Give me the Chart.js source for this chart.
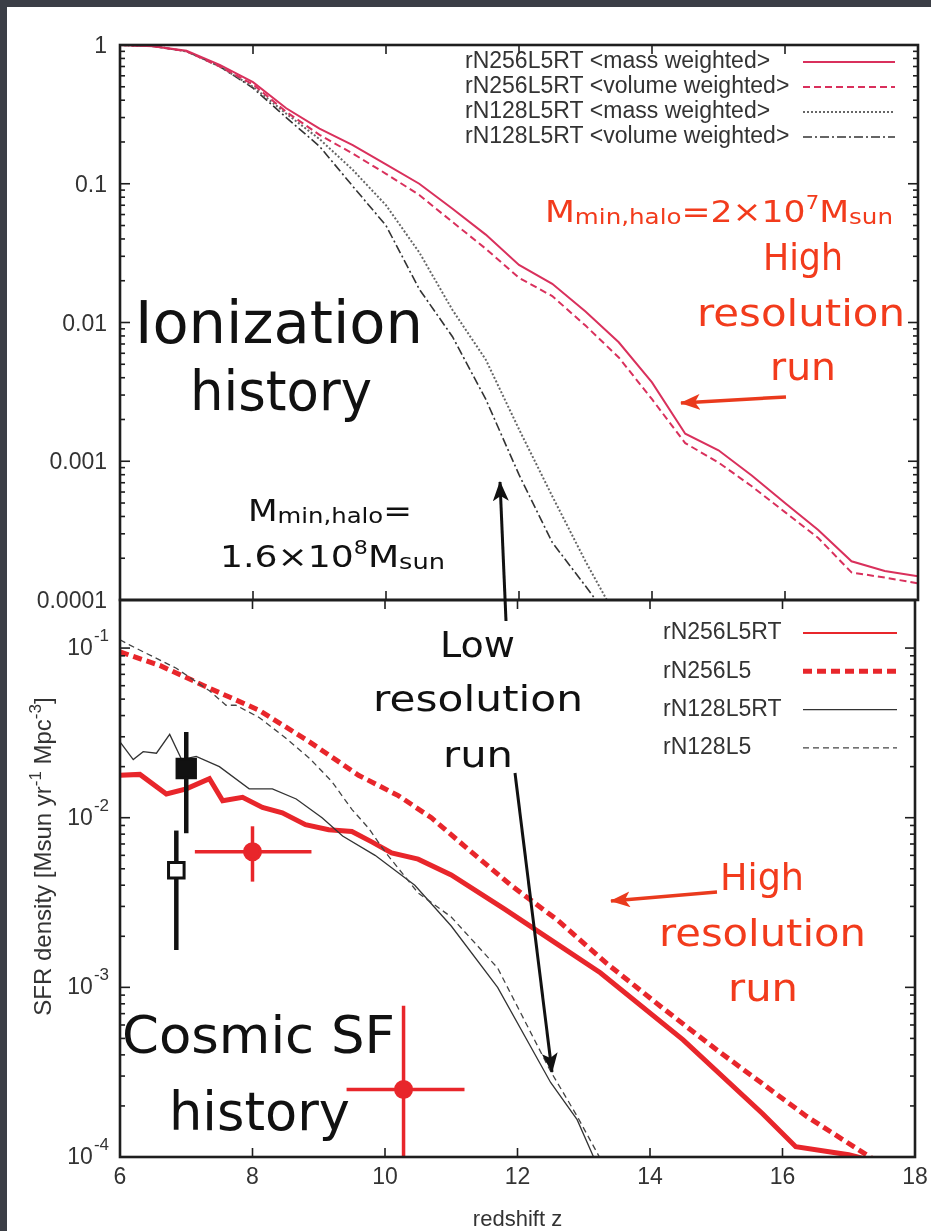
<!DOCTYPE html>
<html>
<head>
<meta charset="utf-8">
<script src="https://cdn.jsdelivr.net/npm/chart.js@4.4.1/dist/chart.umd.min.js"></script>
<style>
  html, body { margin:0; padding:0; width:931px; height:1231px; overflow:hidden; background:#3b3e46; }
  #sheet { position:absolute; left:7px; top:7px; right:0; bottom:0; background:#fff; }
  canvas { position:absolute; left:0; }
  #cTop { top:0; }
  #cBot { top:580px; }
  #notes { position:absolute; left:0; top:0; }
</style>
</head>
<body>
<div id="sheet"></div>
<canvas id="cTop" width="931" height="620"></canvas>
<canvas id="cBot" width="931" height="651"></canvas>

<svg id="notes" width="931" height="1231" font-family="'DejaVu Sans', sans-serif">
  <defs>
    <marker id="hr" viewBox="0 0 20 16" refX="19" refY="8" markerWidth="20" markerHeight="16" markerUnits="userSpaceOnUse" orient="auto">
      <path d="M0,0 L20,8 L0,16 L5,8 Z" fill="#ea3a1d"/>
    </marker>
    <marker id="hk" viewBox="0 0 20 16" refX="19" refY="8" markerWidth="20" markerHeight="16" markerUnits="userSpaceOnUse" orient="auto">
      <path d="M0,0 L20,8 L0,16 L5,8 Z" fill="#111"/>
    </marker>
  </defs>

  <!-- top panel notes -->
  <text x="135" y="343" font-size="58" fill="#111" textLength="288" lengthAdjust="spacingAndGlyphs">Ionization</text>
  <text x="190" y="410" font-size="56" fill="#111" textLength="182" lengthAdjust="spacingAndGlyphs">history</text>

  <text x="545" y="222" font-size="31" fill="#f23b1c" textLength="348" lengthAdjust="spacingAndGlyphs">M<tspan font-size="22" dy="2">min,halo</tspan><tspan dy="-2">=2×10</tspan><tspan font-size="19" dy="-13">7</tspan><tspan dy="13">M</tspan><tspan font-size="22" dy="2">sun</tspan></text>
  <text x="763" y="270" font-size="38" fill="#f23b1c" textLength="80" lengthAdjust="spacingAndGlyphs">High</text>
  <text x="697" y="326" font-size="38" fill="#f23b1c" textLength="208" lengthAdjust="spacingAndGlyphs">resolution</text>
  <text x="770" y="380" font-size="38" fill="#f23b1c" textLength="66" lengthAdjust="spacingAndGlyphs">run</text>
  <line x1="786" y1="397" x2="681" y2="403" stroke="#ea3a1d" stroke-width="3.5" marker-end="url(#hr)"/>

  <text x="248" y="521" font-size="31" fill="#111" textLength="164" lengthAdjust="spacingAndGlyphs">M<tspan font-size="22" dy="2">min,halo</tspan><tspan dy="-2">=</tspan></text>
  <text x="220" y="567" font-size="31" fill="#111" textLength="225" lengthAdjust="spacingAndGlyphs">1.6×10<tspan font-size="19" dy="-13">8</tspan><tspan dy="13">M</tspan><tspan font-size="22" dy="2">sun</tspan></text>

  <!-- low resolution notes -->
  <line x1="506" y1="621" x2="500" y2="482" stroke="#111" stroke-width="3" marker-end="url(#hk)"/>
  <text x="440" y="657" font-size="36" fill="#111" textLength="75" lengthAdjust="spacingAndGlyphs">Low</text>
  <text x="373" y="711" font-size="36" fill="#111" textLength="210" lengthAdjust="spacingAndGlyphs">resolution</text>
  <text x="443" y="767" font-size="36" fill="#111" textLength="70" lengthAdjust="spacingAndGlyphs">run</text>
  <line x1="515" y1="773" x2="552" y2="1072" stroke="#111" stroke-width="3" marker-end="url(#hk)"/>

  <!-- bottom panel notes -->
  <text x="720" y="890" font-size="38" fill="#f23b1c" textLength="84" lengthAdjust="spacingAndGlyphs">High</text>
  <text x="659" y="946" font-size="38" fill="#f23b1c" textLength="207" lengthAdjust="spacingAndGlyphs">resolution</text>
  <text x="728" y="1001" font-size="38" fill="#f23b1c" textLength="70" lengthAdjust="spacingAndGlyphs">run</text>
  <line x1="717" y1="892" x2="611" y2="901" stroke="#ea3a1d" stroke-width="3.5" marker-end="url(#hr)"/>

  <text x="122" y="1053" font-size="52" fill="#111" textLength="273" lengthAdjust="spacingAndGlyphs">Cosmic SF</text>
  <text x="169" y="1130" font-size="54" fill="#111" textLength="181" lengthAdjust="spacingAndGlyphs">history</text>
</svg>

<script>
// ---- ionization history (top panel) ----
const zIon = [6, 6.5, 7, 7.5, 8, 8.5, 9, 9.5, 10, 10.5, 11, 11.5, 12, 12.5, 13, 13.5, 14, 14.5, 15, 15.5, 16, 16.5, 17, 17.5, 18];
const ionMass256 = [1.0, 0.98, 0.91, 0.72, 0.54, 0.35, 0.25, 0.19, 0.138, 0.10, 0.066, 0.043, 0.026, 0.019, 0.012, 0.0072, 0.0037, 0.00158, 0.0012, 0.00079, 0.0005, 0.00032, 0.00019, 0.000162, 0.000148];
const ionVol256  = [1.0, 0.98, 0.90, 0.70, 0.52, 0.33, 0.225, 0.165, 0.118, 0.083, 0.053, 0.034, 0.021, 0.0155, 0.0095, 0.0056, 0.0028, 0.00135, 0.00098, 0.00066, 0.00043, 0.00028, 0.000158, 0.000145, 0.000132];
const zIon128 = [6, 6.5, 7, 7.5, 8, 8.5, 9, 9.5, 10, 10.5, 11, 11.5, 12, 12.5, 13, 13.5];
const ionMass128 = [1.0, 0.98, 0.9, 0.7, 0.5, 0.32, 0.21, 0.126, 0.07, 0.032, 0.0123, 0.0054, 0.0017, 0.00056, 0.00019, 0.00007];
const ionVol128  = [1.0, 0.98, 0.9, 0.7, 0.49, 0.3, 0.186, 0.096, 0.05, 0.0174, 0.0079, 0.0028, 0.0008, 0.00026, 0.000126, 0.00006];
const ionTicks = [1, 0.1, 0.01, 0.001, 0.0001];
const ionTickText = ['1', '0.1', '0.01', '0.001', '0.0001'];

// ---- cosmic SF history (bottom panel) ----
const zSfr256RT = [6.0, 6.3, 6.7, 7.0, 7.35, 7.55, 7.85, 8.15, 8.45, 8.8, 9.15, 9.5, 9.8, 10.1, 10.5, 11.0, 11.8, 12.6, 13.25, 14.5, 15.7, 16.2, 17.0, 17.6];
const sfr256RT  = [0.0178, 0.018, 0.0138, 0.0148, 0.017, 0.0126, 0.0132, 0.0115, 0.0107, 0.0091, 0.0085, 0.0083, 0.0072, 0.0062, 0.0057, 0.0046, 0.0029, 0.0018, 0.00122, 0.00049, 0.00018, 0.000115, 0.000103, 0.00009];
const zSfr256 = [6.0, 6.6, 7.35, 8.1, 8.86, 9.6, 10.2, 10.7, 11.2, 11.9, 12.6, 13.35, 14.2, 15.0, 16.36, 17.6];
const sfr256  = [0.095, 0.079, 0.058, 0.043, 0.028, 0.0178, 0.0135, 0.010, 0.0068, 0.004, 0.0025, 0.00138, 0.00075, 0.00043, 0.000174, 0.000085];
const zSfr128RT = [6.0, 6.2, 6.35, 6.55, 6.75, 6.93, 7.15, 7.5, 7.95, 8.3, 8.66, 9.05, 9.36, 9.85, 10.45, 11.0, 11.7, 12.5, 12.9, 13.2];
const sfr128RT  = [0.028, 0.022, 0.0245, 0.024, 0.031, 0.022, 0.023, 0.020, 0.0148, 0.0148, 0.0129, 0.010, 0.0078, 0.006, 0.004, 0.0023, 0.001, 0.000275, 0.000166, 0.00009];
const zSfr128 = [6.0, 6.15, 6.85, 7.35, 7.6, 7.75, 8.1, 8.5, 8.86, 9.2, 9.5, 9.76, 10.0, 10.5, 11.0, 11.7, 12.5, 12.9, 13.3];
const sfr128  = [0.112, 0.104, 0.076, 0.056, 0.046, 0.046, 0.039, 0.0295, 0.0224, 0.0163, 0.0112, 0.0086, 0.0063, 0.0036, 0.0026, 0.0013, 0.00032, 0.000174, 0.00009];

// observational points: filled square, open square, two red circles
const obsZ   = [7.0, 6.85, 8.0, 10.28];
const obsV   = [0.0195, 0.0049, 0.0063, 0.00025];
const obsVLo = [0.0081, 0.00166, 0.0042, 0.00005];
const obsVHi = [0.032, 0.0084, 0.0089, 0.00078];
const obsZLo = [7.0, 6.85, 7.13, 9.42];
const obsZHi = [7.0, 6.85, 8.89, 11.2];
const sfrTicks = [0.1, 0.01, 0.001, 0.0001];
const sfrTickExp = ['-1', '-2', '-3', '-4'];
const zTicks = [6, 8, 10, 12, 14, 16, 18];

const RED = '#e8262b', PINK = '#d9305c', INK = '#333';
const FONT = '"Liberation Sans", Arial, sans-serif';
const pairs = (xs, ys) => xs.map((x, i) => ({ x, y: ys[i] }));

function seg(ctx, x1, y1, x2, y2){ ctx.beginPath(); ctx.moveTo(x1, y1); ctx.lineTo(x2, y2); ctx.stroke(); }

// frame, inward ticks, tick labels and key, all placed through the chart scales
const axesPlugin = {
  id: 'axes',
  afterDatasetsDraw(chart, args, o){
    const { ctx, chartArea: a } = chart;
    const xs = chart.scales.x, ys = chart.scales.y;
    ctx.save();
    ctx.strokeStyle = '#1e1e1e';
    ctx.setLineDash([]);
    ctx.lineWidth = 1.6;
    zTicks.forEach(v => {
      const px = xs.getPixelForValue(v);
      seg(ctx, px, a.bottom, px, a.bottom - 9);
      seg(ctx, px, a.top, px, a.top + 9);
    });
    const e0 = Math.floor(Math.log10(ys.min)), e1 = Math.ceil(Math.log10(ys.max));
    for (let e = e0; e <= e1; e++) {
      for (let m = 1; m <= 9; m++) {
        const v = m * Math.pow(10, e);
        if (v < ys.min * 0.999 || v > ys.max * 1.001) continue;
        const py = ys.getPixelForValue(v), len = m === 1 ? 10 : 5;
        seg(ctx, a.left, py, a.left + len, py);
        seg(ctx, a.right, py, a.right - len, py);
      }
    }
    ctx.lineWidth = 2.6;
    ctx.strokeRect(a.left, a.top, a.width, a.height);

    ctx.fillStyle = INK;
    ctx.textBaseline = 'alphabetic';
    if (o.kind === 'ion') {
      ctx.font = '23px ' + FONT;
      ctx.textAlign = 'right';
      ionTicks.forEach((v, i) => ctx.fillText(ionTickText[i], a.left - 13, ys.getPixelForValue(v) + 8));
    } else {
      sfrTicks.forEach((v, i) => {
        const py = ys.getPixelForValue(v);
        ctx.font = '17px ' + FONT;
        ctx.textAlign = 'right';
        const sw = ctx.measureText(sfrTickExp[i]).width;
        ctx.fillText(sfrTickExp[i], a.left - 11, py - 7);
        ctx.font = '23px ' + FONT;
        ctx.fillText('10', a.left - 12 - sw, py + 7);
      });
      ctx.font = '23px ' + FONT;
      ctx.textAlign = 'center';
      zTicks.forEach(v => ctx.fillText(String(v), xs.getPixelForValue(v), a.bottom + 27));
      ctx.font = '22px ' + FONT;
      ctx.fillText('redshift z', (a.left + a.right) / 2, a.bottom + 69);
      // rotated y title with superscripts
      const parts = [['SFR density [Msun yr', 24, 0], ['-1', 17, -10], [' Mpc', 24, 0], ['-3', 17, -10], [']', 24, 0]];
      let total = 0;
      parts.forEach(p => { ctx.font = p[1] + 'px ' + FONT; total += ctx.measureText(p[0]).width; });
      ctx.translate(a.left - 69, (a.top + a.bottom) / 2 - 22);
      ctx.rotate(-Math.PI / 2);
      ctx.textAlign = 'left';
      let cx = -total / 2;
      parts.forEach(p => { ctx.font = p[1] + 'px ' + FONT; ctx.fillText(p[0], cx, p[2]); cx += ctx.measureText(p[0]).width; });
      ctx.setTransform(1, 0, 0, 1, 0, 0);
    }

    // key
    const k = o.key;
    ctx.font = k.font;
    ctx.textAlign = 'left';
    ctx.textBaseline = 'middle';
    chart.data.datasets.filter(d => d.label).forEach((d, i) => {
      const y = k.y0 + i * k.dy;
      ctx.fillStyle = INK;
      ctx.fillText(d.label, k.x, y);
      ctx.strokeStyle = d.borderColor;
      ctx.lineWidth = d.keyWidth || d.borderWidth;
      ctx.setLineDash(d.borderDash || []);
      seg(ctx, k.x1, y, k.x2, y);
    });
    ctx.restore();
  }
};

const lineDefaults = { pointRadius: 0, tension: 0, fill: false, clip: 0 };

function baseOptions(yMin, yMax, padding, kind, key){
  return {
    responsive: false,
    animation: false,
    devicePixelRatio: 1,
    layout: { padding },
    scales: {
      x: { type: 'linear', min: 6, max: 18, display: false },
      y: { type: 'logarithmic', min: yMin, max: yMax, display: false }
    },
    plugins: { legend: { display: false }, tooltip: { enabled: false }, axes: { kind, key } }
  };
}

// top chart: plot box 120..918 x 45..600
new Chart(document.getElementById('cTop'), {
  type: 'line',
  data: { datasets: [
    { ...lineDefaults, label: 'rN256L5RT <mass weighted>', data: pairs(zIon, ionMass256), borderColor: PINK, borderWidth: 2 },
    { ...lineDefaults, label: 'rN256L5RT <volume weighted>', data: pairs(zIon, ionVol256), borderColor: PINK, borderWidth: 2, borderDash: [7, 4] },
    { ...lineDefaults, label: 'rN128L5RT <mass weighted>', data: pairs(zIon128, ionMass128), borderColor: '#666', borderWidth: 2, borderDash: [2, 2] },
    { ...lineDefaults, label: 'rN128L5RT <volume weighted>', data: pairs(zIon128, ionVol128), borderColor: '#333', borderWidth: 1.6, borderDash: [9, 3, 2, 3] }
  ]},
  options: baseOptions(0.0001, 1, { left: 120, top: 45, right: 13, bottom: 20 }, 'ion',
    { x: 465, x1: 803, x2: 895, y0: 62, dy: 25, font: '23px ' + FONT }),
  plugins: [axesPlugin]
});

// error bars and markers for the observations
const obsColor  = ['#111', '#111', RED, RED];
const obsFill   = ['#111', '#fff', RED, RED];
const obsStyle  = ['rect', 'rect', 'circle', 'circle'];
const obsRadius = [13, 11, 8, 8];
const obsBars = [];
obsZ.forEach((z, i) => {
  const w = obsColor[i] === RED ? 3.5 : 4.5;
  obsBars.push({ ...lineDefaults, order: 1, data: [{ x: z, y: obsVLo[i] }, { x: z, y: obsVHi[i] }], borderColor: obsColor[i], borderWidth: w });
  if (obsZLo[i] !== obsZHi[i]) {
    obsBars.push({ ...lineDefaults, order: 1, data: [{ x: obsZLo[i], y: obsV[i] }, { x: obsZHi[i], y: obsV[i] }], borderColor: obsColor[i], borderWidth: w });
  }
});

// bottom chart: plot box 120..918 x 600..1157 (canvas starts at 580)
new Chart(document.getElementById('cBot'), {
  type: 'line',
  data: { datasets: [
    { ...lineDefaults, order: 5, label: 'rN256L5RT', data: pairs(zSfr256RT, sfr256RT), borderColor: RED, borderWidth: 5, keyWidth: 2 },
    { ...lineDefaults, order: 4, label: 'rN256L5', data: pairs(zSfr256, sfr256), borderColor: RED, borderWidth: 5, borderDash: [9, 5] },
    { ...lineDefaults, order: 3, label: 'rN128L5RT', data: pairs(zSfr128RT, sfr128RT), borderColor: '#333', borderWidth: 1.3 },
    { ...lineDefaults, order: 2, label: 'rN128L5', data: pairs(zSfr128, sfr128), borderColor: '#444', borderWidth: 1.3, borderDash: [6, 4] },
    ...obsBars,
    { order: 0, showLine: false, clip: 0, data: pairs(obsZ, obsV), pointStyle: obsStyle, pointRadius: obsRadius,
      pointBackgroundColor: obsFill, pointBorderColor: obsColor, pointBorderWidth: 3 }
  ]},
  options: baseOptions(0.0001, 0.192, { left: 120, top: 20, right: 13, bottom: 74 }, 'sfr',
    { x: 663, x1: 803, x2: 897, y0: 53, dy: 38.3, font: '23px ' + FONT }),
  plugins: [axesPlugin]
});
</script>
</body>
</html>
